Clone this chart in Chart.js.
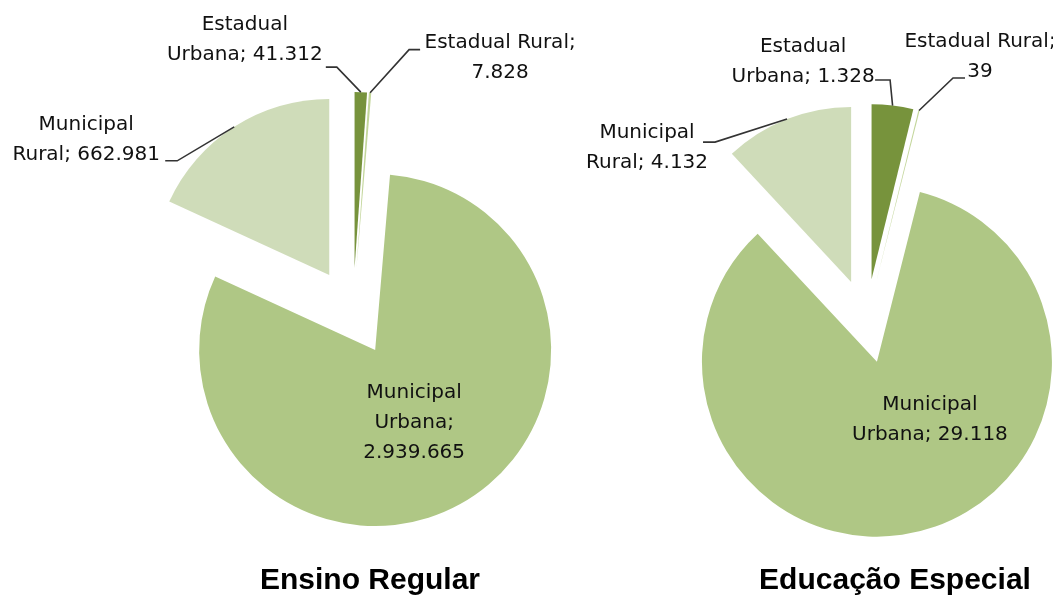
<!DOCTYPE html>
<html>
<head>
<meta charset="utf-8">
<script src="https://cdn.jsdelivr.net/npm/chart.js@4.4.1/dist/chart.umd.min.js"></script>
<style>
  html, body { margin: 0; padding: 0; background: #fff; }
  #wrap { position: relative; width: 1053px; height: 595px; }
  #wrap canvas { position: absolute; left: 0; top: 0; }
</style>
</head>
<body>
<div id="wrap">
  <canvas id="regular" width="1053" height="595"></canvas>
  <canvas id="especial" width="1053" height="595"></canvas>
</div>
<script>
// dados
const categories = ['Estadual Urbana', 'Estadual Rural', 'Municipal Urbana', 'Municipal Rural'];
const regularValues = [41312, 7828, 2939665, 662981];
const especialValues = [1328, 39, 29118, 4132];
const chartTitles = ['Ensino Regular', 'Educação Especial'];

const sliceColors = ['#77933C', '#C3D69B', '#AFC785', '#CFDCB9'];

// 2939665 -> "2.939.665"
const fmt = (v) => String(v).replace(/\B(?=(\d{3})+(?!\d))/g, '.');

/*
 * Fatias "explodidas" como no Excel: desloca a fatia inteira pelo offset,
 * sem o ajuste de raio que o Chart.js faz por padrão.
 */
Chart.ArcElement.prototype.draw = function (ctx) {
  const o = this.options;
  const d = o.offset || 0;
  const mid = (this.startAngle + this.endAngle) / 2;
  ctx.save();
  ctx.translate(Math.cos(mid) * d, Math.sin(mid) * d);
  ctx.beginPath();
  ctx.moveTo(this.x, this.y);
  ctx.arc(this.x, this.y, this.outerRadius, this.startAngle, this.endAngle);
  ctx.closePath();
  ctx.fillStyle = o.backgroundColor;
  ctx.fill();
  ctx.restore();
};

// rótulos com linhas de chamada + título embaixo
const sliceLabels = {
  id: 'sliceLabels',
  afterDatasetsDraw(chart, args, opts) {
    const { ctx } = chart;
    const meta = chart.getDatasetMeta(0);
    const values = chart.data.datasets[0].data;

    ctx.save();
    ctx.font = opts.font;
    ctx.fillStyle = opts.color;
    ctx.textAlign = 'center';
    ctx.textBaseline = 'middle';
    ctx.strokeStyle = opts.lineColor;
    ctx.lineWidth = 1.6;

    meta.data.forEach((arc, i) => {
      const lab = opts.layout[i];
      const mid = (arc.startAngle + arc.endAngle) / 2;
      const d = arc.options.offset || 0;
      const vx = arc.x + Math.cos(mid) * d;
      const vy = arc.y + Math.sin(mid) * d;
      const ax = vx + Math.cos(mid) * arc.outerRadius;
      const ay = vy + Math.sin(mid) * arc.outerRadius;

      const words = `${chart.data.labels[i]}; ${fmt(values[i])}`.split(' ');
      const lines = [];
      let cur = [];
      words.forEach((w, k) => {
        if (lab.breaks.includes(k) && cur.length) { lines.push(cur.join(' ')); cur = []; }
        cur.push(w);
      });
      lines.push(cur.join(' '));

      let ox = ax, oy = ay;
      if (lab.inside) {
        ox = vx; oy = vy;
      } else {
        ctx.beginPath();
        ctx.moveTo(ax, ay);
        ctx.lineTo(ax + lab.elbow[0], ay + lab.elbow[1]);
        ctx.lineTo(ax + lab.end[0], ay + lab.end[1]);
        ctx.stroke();
      }
      lines.forEach((t, k) => ctx.fillText(t, ox + lab.dx, oy + lab.dy + k * opts.lineHeight));
    });

    ctx.font = opts.titleFont;
    ctx.fillStyle = '#000';
    ctx.textBaseline = 'alphabetic';
    ctx.fillText(opts.title, opts.titleX, opts.titleY);
    ctx.restore();
  }
};

function makePie(canvasId, values, title, cfg) {
  const canvas = document.getElementById(canvasId);
  const W = canvas.width, H = canvas.height;
  return new Chart(canvas.getContext('2d'), {
    type: 'pie',
    data: {
      labels: categories,
      datasets: [{
        data: values,
        backgroundColor: sliceColors,
        borderWidth: 0,
        hoverOffset: 0,
        offset: cfg.explode,
      }]
    },
    options: {
      responsive: false,
      animation: false,
      events: [],
      radius: cfg.radius,
      layout: {
        padding: {
          left: cfg.cx - 150,
          right: W - cfg.cx - 150,
          top: cfg.cy - 150,
          bottom: H - cfg.cy - 150,
        }
      },
      plugins: {
        legend: { display: false },
        tooltip: { enabled: false },
        sliceLabels: {
          font: '20px "DejaVu Sans"',
          color: '#111',
          lineColor: '#333',
          lineHeight: 30,
          layout: cfg.labels,
          title: title,
          titleFont: 'bold 30px "Liberation Sans"',
          titleX: cfg.titleX,
          titleY: 589,
        }
      }
    },
    plugins: [sliceLabels],
  });
}

makePie('regular', regularValues, chartTitles[0], {
  cx: 353, cy: 312, radius: 176, explode: 44, titleX: 370,
  labels: [
    { breaks: [1], dx: -116, dy: -67, elbow: [-24, -25], end: [-35, -25] },
    { breaks: [2], dx: 130, dy: -50, elbow: [39, -43], end: [50, -43] },
    { breaks: [1, 2], inside: true, dx: 39, dy: 43 },
    { breaks: [1], dx: -148, dy: -2, elbow: [-57, 34], end: [-69, 34] },
  ]
});

makePie('especial', especialValues, chartTitles[1], {
  cx: 866.5, cy: 321, radius: 175, explode: 42, titleX: 895,
  labels: [
    { breaks: [1], dx: -89.5, dy: -58.6, elbow: [-2.5, -25.6], end: [-17.5, -25.6] },
    { breaks: [2], dx: 61, dy: -68.5, elbow: [34, -32.5], end: [46, -32.5] },
    { breaks: [1], inside: true, dx: 53, dy: 43 },
    { breaks: [1], dx: -140, dy: 14, elbow: [-72, 23], end: [-84, 23] },
  ]
});
</script>
</body>
</html>
